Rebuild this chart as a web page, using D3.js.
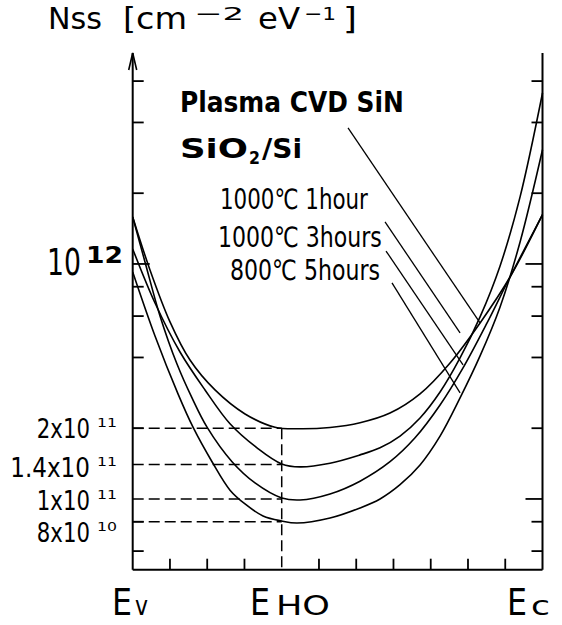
<!DOCTYPE html>
<html><head><meta charset="utf-8">
<script src="https://cdn.jsdelivr.net/npm/d3@7"></script>
<style>html,body{margin:0;padding:0;background:#fff;} svg{display:block}</style>
</head><body>
<svg id="chart" width="562" height="625"></svg>
<script>
// ---------------- data ----------------
// x axis: energy position in tick units (Ev = 0, EHO = 4, Ec = 11)
const energyTicks = [1, 2, 3, 4, 5, 6, 7, 8, 9, 10];
const nssTicks = [6e10, 8e10, 1e11, 2e11, 4e11, 6e11, 8e11, 1e12, 2e12, 4e12, 6e12];
const nssMajorTicks = [1e11, 1e12];
const energyLabelPos = [0, 4, 11];
const energyLabelMain = ["E", "E", "E"];
const energyLabelSub = ["v", "HO", "c"];
const ehoPos = 4;
const refValues = [2e11, 1.4e11, 1e11, 8e10];
const refMantissa = ["2x10", "1.4x10", "1x10", "8x10"];
const refExponent = ["11", "11", "11", "10"];

const seriesNames = ["Plasma CVD SiN", "1000\u2103 1hour", "1000\u2103 3hours", "800\u2103 5hours"];
const sinE = [0, 0.464, 1.001, 1.538, 2.209, 3.015, 3.820, 4.492, 5.297, 6.102, 6.907, 7.713, 8.518, 9.324, 10.129, 11];
const sinN = [1.585e12, 9.43e11, 5.67e11, 3.90e11, 2.91e11, 2.30e11, 2.02e11, 1.99e11, 2.015e11, 2.11e11, 2.32e11, 2.80e11, 3.79e11, 5.61e11, 8.80e11, 1.62e12];
const h1E = [0, 0.599, 1.270, 1.941, 2.612, 3.337, 4.0, 4.492, 5.297, 6.102, 6.639, 7.176, 7.713, 8.250, 8.787, 9.324, 9.861, 10.398, 11];
const h1N = [1.158e12, 6.82e11, 4.22e11, 2.91e11, 2.09e11, 1.65e11, 1.41e11, 1.37e11, 1.42e11, 1.54e11, 1.65e11, 1.85e11, 2.21e11, 2.85e11, 3.98e11, 5.95e11, 9.81e11, 1.93e12, 5.34e12];
const h3E = [0, 0.330, 0.733, 1.189, 1.592, 1.995, 2.666, 3.283, 4.0, 4.492, 5.297, 6.102, 6.907, 7.579, 8.250, 8.867, 9.512, 10.129, 11];
const h3N = [1.585e12, 1.020e12, 6.01e11, 3.75e11, 2.69e11, 2.02e11, 1.44e11, 1.17e11, 1.01e11, 0.99e11, 1.05e11, 1.19e11, 1.44e11, 1.82e11, 2.51e11, 3.61e11, 5.61e11, 8.80e11, 1.62e12];
const h5E = [0, 0.599, 1.216, 1.619, 2.129, 2.612, 3.015, 3.498, 4.0, 4.411, 5.297, 6.102, 6.639, 7.176, 7.713, 8.250, 8.787, 9.324, 9.861, 10.398, 11];
const h5N = [9.25e11, 4.94e11, 2.80e11, 2.02e11, 1.44e11, 1.09e11, 9.52e10, 8.47e10, 8.06e10, 7.90e10, 8.30e10, 9.16e10, 1.0e11, 1.15e11, 1.395e11, 1.85e11, 2.69e11, 4.06e11, 6.56e11, 1.24e12, 3.06e12];

// leader lines (label anchor -> curve), in data units
const leaderStartE = [5.78, 6.773, 6.8, 6.96];
const leaderStartN = [3.79e12, 1.51e12, 1.135e12, 8.3e11];
const leaderEndE = [9.324, 8.787, 8.867, 8.787];
const leaderEndN = [5.61e11, 5.09e11, 3.72e11, 2.83e11];

// ---------------- layout ----------------
const svg = d3.select("#chart");
const x = d3.scaleLinear().domain([0, 11]).range([132.7, 542.5]);
const y = d3.scaleLog().domain([5e10, 7.9e12]).range([569.7, 53]);
const FONT = "'DejaVu Sans Condensed','DejaVu Sans',sans-serif";
const x0 = x.range()[0], x1 = x.range()[1];
const yB = y.range()[0], yT = y.range()[1];

// text squeezed horizontally to a target width (keeps real glyph boxes)
function label(str, px, py, size, len, weight, anchor) {
  const t = svg.append("text")
    .attr("font-size", size).attr("font-family", FONT)
    .attr("font-weight", weight || "normal").attr("fill", "#000").text(str);
  const w = t.node().getComputedTextLength() || len;
  const sx = len / w;
  const startX = anchor === "end" ? px - len : px;
  t.attr("transform", `translate(${startX},${py}) scale(${sx},1)`);
  return t;
}

// axes
const ax = svg.append("g").attr("stroke", "#000").attr("fill", "none");
ax.append("line").attr("x1", x0).attr("x2", x0).attr("y1", yB).attr("y2", yT).attr("stroke-width", 2);
ax.append("line").attr("x1", x1).attr("x2", x1).attr("y1", yB).attr("y2", yT).attr("stroke-width", 2);
ax.append("line").attr("x1", x0).attr("x2", x1).attr("y1", yB).attr("y2", yB).attr("stroke-width", 2);
ax.append("polyline").attr("points", `${x0-4},${yT+17} ${x0},${yT} ${x0+4},${yT+17}`).attr("stroke-width", 1.6);

// ticks
nssTicks.forEach(v => {
  const len = nssMajorTicks.includes(v) ? 17 : 11;
  if (v !== 1e11) ax.append("line").attr("x1", x0).attr("x2", x0 + len).attr("y1", y(v)).attr("y2", y(v)).attr("stroke-width", 1.8);
  ax.append("line").attr("x1", x1).attr("x2", x1 - len).attr("y1", y(v)).attr("y2", y(v)).attr("stroke-width", 1.8);
});
energyTicks.forEach(e => {
  if (e === ehoPos) return;
  ax.append("line").attr("x1", x(e)).attr("x2", x(e)).attr("y1", yB).attr("y2", yB - 11).attr("stroke-width", 1.8);
});

// dashed reference lines
const dash = svg.append("g").attr("stroke", "#000").attr("stroke-width", 1.5).attr("stroke-dasharray", "11,5");
refValues.forEach(v => {
  dash.append("line").attr("x1", x0).attr("x2", x(ehoPos)).attr("y1", y(v)).attr("y2", y(v));
});
dash.append("line").attr("x1", x(ehoPos)).attr("x2", x(ehoPos)).attr("y1", y(refValues[0])).attr("y2", yB);

// curves
const line = d3.line().x(d => x(d[0])).y(d => y(d[1])).curve(d3.curveCatmullRom.alpha(0.5));
[[sinE, sinN], [h1E, h1N], [h3E, h3N], [h5E, h5N]].forEach(([E, N]) => {
  svg.append("path").attr("d", line(E.map((e, i) => [e, N[i]])))
    .attr("fill", "none").attr("stroke", "#000").attr("stroke-width", 1.6);
});

// leader lines
leaderStartE.forEach((e, i) => {
  svg.append("line").attr("x1", x(e)).attr("y1", y(leaderStartN[i]))
    .attr("x2", x(leaderEndE[i])).attr("y2", y(leaderEndN[i]))
    .attr("stroke", "#000").attr("stroke-width", 1.3);
});

// ---------------- text ----------------
// title
label("Nss", 48, 29, 30, 54);
label("[cm", 123, 29, 30, 64);
label("\u22122", 194, 20, 18, 50);
label("eV", 258, 29, 30, 42);
label("\u22121", 304, 20, 18, 32);
label("]", 343, 29, 30, 14);

// series labels
label(seriesNames[0], 180, 112, 28, 224, "bold");
label("SiO", 180, 158, 27, 68, "bold");
label("2", 249, 164, 18, 11, "bold");
label("/Si", 262, 158, 27, 40, "bold");
label(seriesNames[1], 220, 209, 28, 148);
label(seriesNames[2], 218, 247, 28, 164);
label(seriesNames[3], 230, 280, 28, 150);

// 10^12 label
label("10", 47, 275, 38, 34);
label("12", 86, 263, 23, 37, "bold");

// reference value labels
const refOffsets = [9.5, 12.3, 11, 20];
refValues.forEach((v, i) => {
  const by = y(v) + refOffsets[i];
  label(refMantissa[i], 90, by, 27, refMantissa[i].length * 13.3, "normal", "end");
  label(refExponent[i], 97, by - 11, 12, 20);
});

// energy labels
const eStarts = [112, 250, 507];
const subStarts = [135, 276, 531];
const subLens = [13, 54, 19];
energyLabelPos.forEach((p, i) => {
  label(energyLabelMain[i], eStarts[i], 615, 37, 20);
  label(energyLabelSub[i], subStarts[i], 615, 27, subLens[i]);
});
</script>
</body></html>
